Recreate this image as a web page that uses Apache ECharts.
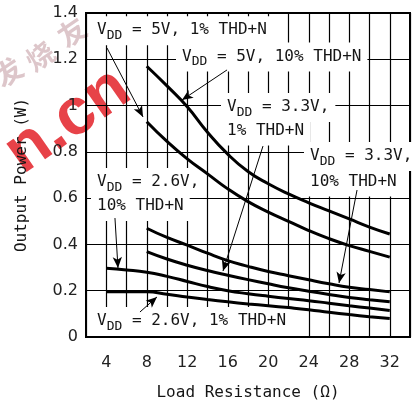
<!DOCTYPE html>
<html>
<head>
<meta charset="utf-8">
<script src="https://cdn.jsdelivr.net/npm/echarts@6/dist/echarts.min.js"></script>
<style>
  html, body { margin: 0; padding: 0; background: #fff; }
  #chart { width: 414px; height: 409px; }
</style>
</head>
<body>
<div id="chart"></div>
<script>
// Load resistance (ohms) at which each curve is sampled
const ohmsFrom8 = [8, 10, 12, 14, 16, 18, 20, 22, 24, 26, 28, 30, 32];
const ohmsFrom4 = [4, 6, 8, 10, 12, 14, 16, 18, 20, 22, 24, 26, 28, 30, 32];

// Output power (W)
const vdd5v10pct  = [1.17, 1.085, 0.995, 0.885, 0.79, 0.715, 0.662, 0.618, 0.58, 0.545, 0.51, 0.475, 0.445];
const vdd5v1pct   = [0.93, 0.845, 0.77, 0.705, 0.64, 0.585, 0.54, 0.5, 0.46, 0.425, 0.395, 0.37, 0.345];
const vdd33v10pct = [0.47, 0.43, 0.397, 0.362, 0.33, 0.305, 0.283, 0.265, 0.247, 0.23, 0.215, 0.205, 0.195];
const vdd33v1pct  = [0.369, 0.337, 0.31, 0.287, 0.267, 0.248, 0.23, 0.213, 0.198, 0.184, 0.171, 0.161, 0.152];
const vdd26v10pct = [0.297, 0.29, 0.28, 0.262, 0.24, 0.218, 0.2, 0.187, 0.176, 0.166, 0.157, 0.146, 0.135, 0.125, 0.115];
const vdd26v1pct  = [0.196, 0.196, 0.195, 0.185, 0.173, 0.162, 0.152, 0.143, 0.135, 0.127, 0.118, 0.107, 0.097, 0.088, 0.08];

// Labelled x ticks
const xTickLabels = [4, 8, 12, 16, 20, 24, 28, 32];

// Curve callouts: text lines (left edge / line centre in px) and arrows (data units)
const callouts = [
  { x: 97,  y: 30.7,  sub: true,  text: ' = 5V, 1% THD+N' },
  { x: 182, y: 57,    sub: true,  text: ' = 5V, 10% THD+N' },
  { x: 227, y: 107.5, sub: true,  text: ' = 3.3V,' },
  { x: 227, y: 131,   sub: false, text: '1% THD+N' },
  { x: 310, y: 156.5, sub: true,  text: ' = 3.3V,' },
  { x: 310, y: 182,   sub: false, text: '10% THD+N' },
  { x: 97,  y: 182.5, sub: true,  text: ' = 2.6V,' },
  { x: 97,  y: 206.5, sub: false, text: '10% THD+N' },
  { x: 97,  y: 321.5, sub: true,  text: ' = 2.6V, 1% THD+N' }
];
const arrows = [
  [[4.07, 1.249], [7.63, 0.951]],
  [[15.93, 1.154], [11.48, 1.024]],
  [[19.48, 0.825], [15.53, 0.285]],
  [[28.77, 0.635], [26.99, 0.233]],
  [[4.86, 0.514], [5.16, 0.298]],
  [[7.33, 0.108], [9.01, 0.173]]
];

const MONO = '"DejaVu Sans Mono", monospace';
const SANS = '"DejaVu Sans", sans-serif';
const INK = '#151515';

function pairs(xs, ys) { return xs.map((x, i) => [x, ys[i]]); }

function curve(name, xs, ys, extra) {
  return Object.assign({
    name: name,
    type: 'line',
    data: pairs(xs, ys),
    smooth: true,
    symbol: 'none',
    lineStyle: { color: '#000', width: 3 },
    emphasis: { disabled: true },
    silent: true,
    z: 3
  }, extra || {});
}

const PAD = [2, 6, 3, 6];
const calloutGraphics = callouts.map(c => ({
  type: 'text',
  x: c.x - PAD[3],
  y: c.y,
  z: 1,
  silent: true,
  style: {
    text: c.sub ? '{a|V}{s|DD}{a|' + c.text + '}' : '{a|' + c.text + '}',
    rich: {
      a: { fontSize: 16, fontFamily: MONO, fill: INK, lineHeight: 24 },
      s: { fontSize: 13, fontFamily: MONO, fill: INK, lineHeight: 10, verticalAlign: 'bottom' }
    },
    align: 'left',
    verticalAlign: 'middle',
    backgroundColor: '#fff',
    padding: PAD
  }
}));

// Site watermark in the upper-left corner, kept behind the plot
const wmChar = (ch, x, y) => ({
  type: 'text', x: x, y: y, rotation: 0.6, z: -1, silent: true,
  style: { text: ch, font: 'bold 28px "Noto Sans CJK SC"', fill: 'rgba(175,120,128,0.42)',
           align: 'center', verticalAlign: 'middle' }
});
const watermark = [
  {
    type: 'text', x: 68, y: 121, rotation: 0.61, z: -1, silent: true,
    style: { text: 'n.cn', font: 'bold 66px "Liberation Sans", sans-serif',
             fill: 'rgba(228,45,52,0.9)', align: 'center', verticalAlign: 'middle' }
  },
  wmChar('发', 8, 72),
  wmChar('烧', 40, 56),
  wmChar('友', 72, 32)
];

const chart = echarts.init(document.getElementById('chart'), null, { renderer: 'canvas' });

chart.setOption({
  animation: false,
  backgroundColor: '#fff',
  grid: {
    left: 86, right: 4, top: 13, bottom: 72,
    show: true, borderColor: '#000', borderWidth: 2, backgroundColor: 'transparent'
  },
  xAxis: {
    type: 'value',
    min: 2, max: 34, interval: 2,
    name: 'Load Resistance (\u03A9)',
    nameLocation: 'middle',
    nameGap: 48,
    nameTextStyle: { fontFamily: MONO, fontSize: 16, color: INK },
    axisLine: { show: false },
    axisTick: { show: false },
    axisLabel: {
      margin: 18,
      fontFamily: SANS, fontSize: 16, color: '#222',
      formatter: v => (xTickLabels.indexOf(v) >= 0 ? String(v) : '')
    },
    splitLine: { show: true, lineStyle: { color: '#000', width: 1.2 } }
  },
  yAxis: {
    type: 'value',
    min: 0, max: 1.4, interval: 0.2,
    name: 'Output Power (W)',
    nameLocation: 'middle',
    nameGap: 56,
    nameTextStyle: { fontFamily: MONO, fontSize: 16, color: INK },
    axisLine: { show: false },
    axisTick: { show: false },
    axisLabel: {
      margin: 8,
      fontFamily: SANS, fontSize: 16, color: '#222',
      formatter: v => String(Math.round(v * 10) / 10)
    },
    splitLine: { show: true, lineStyle: { color: '#000', width: 1.2 } }
  },
  series: [
    curve('VDD = 5V, 10% THD+N', ohmsFrom8, vdd5v10pct, {
      markLine: {
        silent: true,
        animation: false,
        symbol: ['none', 'arrow'],
        symbolSize: [7, 11],
        label: { show: false },
        lineStyle: { color: '#000', width: 1, type: 'solid' },
        emphasis: { disabled: true },
        data: arrows.map(a => [{ coord: a[0] }, { coord: a[1] }])
      }
    }),
    curve('VDD = 5V, 1% THD+N', ohmsFrom8, vdd5v1pct),
    curve('VDD = 3.3V, 10% THD+N', ohmsFrom8, vdd33v10pct),
    curve('VDD = 3.3V, 1% THD+N', ohmsFrom8, vdd33v1pct),
    curve('VDD = 2.6V, 10% THD+N', ohmsFrom4, vdd26v10pct),
    curve('VDD = 2.6V, 1% THD+N', ohmsFrom4, vdd26v1pct)
  ],
  graphic: calloutGraphics.concat(watermark)
});
</script>
</body>
</html>
